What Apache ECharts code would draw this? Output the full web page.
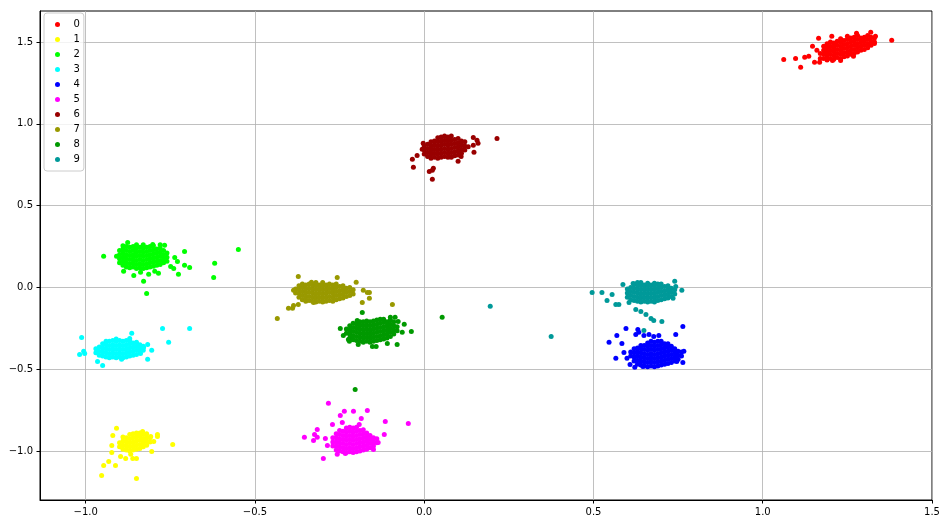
<!DOCTYPE html>
<html>
<head>
<meta charset="utf-8">
<script src="https://cdn.jsdelivr.net/npm/echarts@6/dist/echarts.min.js"></script>
<style>html,body{margin:0;padding:0;background:#fff}#chart{width:947px;height:524px}</style>
</head>
<body>
<div id="chart"></div>
<script>
// Tick labels
const xTicks = [-1.0, -0.5, 0.0, 0.5, 1.0, 1.5];
const yTicks = [-1.0, -0.5, 0.0, 0.5, 1.0, 1.5];
const names = ['0','1','2','3','4','5','6','7','8','9'];
const colors = ['#ff0000','#ffff00','#00ff00','#00ffff','#0000ff','#ff00ff','#990000','#999900','#009900','#009999'];

// cluster 0 (red)
const c0 = [
[1.18,1.40],[1.18,1.425],[1.18,1.45],[1.18,1.475],
[1.19,1.39],[1.19,1.415],[1.19,1.44],[1.19,1.465],[1.19,1.49],
[1.20,1.40],[1.20,1.425],[1.20,1.45],[1.20,1.475],[1.20,1.50],
[1.21,1.395],[1.21,1.42],[1.21,1.445],[1.21,1.47],[1.21,1.495],
[1.22,1.405],[1.22,1.43],[1.22,1.455],[1.22,1.48],[1.22,1.505],
[1.23,1.40],[1.23,1.425],[1.23,1.45],[1.23,1.475],[1.23,1.50],[1.23,1.52],
[1.24,1.41],[1.24,1.435],[1.24,1.46],[1.24,1.485],[1.24,1.51],
[1.25,1.415],[1.25,1.44],[1.25,1.465],[1.25,1.49],[1.25,1.515],[1.25,1.535],
[1.26,1.425],[1.26,1.45],[1.26,1.475],[1.26,1.50],[1.26,1.525],
[1.27,1.43],[1.27,1.455],[1.27,1.48],[1.27,1.505],[1.27,1.53],
[1.28,1.44],[1.28,1.465],[1.28,1.49],[1.28,1.515],[1.28,1.54],
[1.29,1.45],[1.29,1.475],[1.29,1.50],[1.29,1.525],
[1.30,1.455],[1.30,1.48],[1.30,1.505],[1.30,1.53],
[1.31,1.465],[1.31,1.49],[1.31,1.515],[1.31,1.54],
[1.32,1.48],[1.32,1.505],[1.32,1.53],
[1.33,1.50],[1.33,1.525],
[1.062,1.394],[1.097,1.40],[1.112,1.346],[1.381,1.511],[1.124,1.407],[1.136,1.413],
[1.147,1.474],[1.165,1.523],[1.204,1.535],[1.277,1.554],[1.319,1.56],[1.333,1.535],
[1.330,1.492],[1.268,1.413],[1.230,1.388],[1.206,1.388],[1.168,1.376],[1.153,1.376],
[1.17,1.43],[1.16,1.45],[1.17,1.40]
];
// cluster 1 (yellow)
const c1 = [
[-0.90,-0.975],[-0.90,-0.95],
[-0.89,-0.99],[-0.89,-0.965],[-0.89,-0.94],[-0.89,-0.915],
[-0.88,-0.995],[-0.88,-0.97],[-0.88,-0.945],[-0.88,-0.92],
[-0.87,-1.0],[-0.87,-0.975],[-0.87,-0.95],[-0.87,-0.925],[-0.87,-0.90],
[-0.86,-0.995],[-0.86,-0.97],[-0.86,-0.945],[-0.86,-0.92],[-0.86,-0.895],
[-0.85,-0.99],[-0.85,-0.965],[-0.85,-0.94],[-0.85,-0.915],[-0.85,-0.89],
[-0.84,-0.985],[-0.84,-0.96],[-0.84,-0.935],[-0.84,-0.91],[-0.84,-0.89],
[-0.83,-0.975],[-0.83,-0.95],[-0.83,-0.925],[-0.83,-0.90],
[-0.82,-0.965],[-0.82,-0.94],[-0.82,-0.915],[-0.82,-0.895],
[-0.81,-0.945],[-0.81,-0.92],
[-0.909,-0.862],[-0.920,-0.905],[-0.923,-0.966],[-0.832,-0.881],[-0.808,-0.911],
[-0.788,-0.899],[-0.788,-0.911],[-0.799,-0.942],[-0.743,-0.960],[-0.805,-1.003],
[-0.923,-1.009],[-0.932,-1.064],[-0.947,-1.089],[-0.953,-1.150],[-0.912,-1.089],
[-0.897,-1.034],[-0.882,-1.046],[-0.867,-1.021],[-0.861,-1.046],[-0.850,-1.046],
[-0.850,-1.168]
];
// cluster 2 (lime)
const c2 = [
[-0.90,0.15],[-0.90,0.175],[-0.90,0.20],[-0.90,0.225],
[-0.89,0.135],[-0.89,0.16],[-0.89,0.185],[-0.89,0.21],[-0.89,0.235],[-0.89,0.255],
[-0.88,0.125],[-0.88,0.15],[-0.88,0.175],[-0.88,0.20],[-0.88,0.225],[-0.88,0.25],
[-0.87,0.12],[-0.87,0.145],[-0.87,0.17],[-0.87,0.195],[-0.87,0.22],[-0.87,0.245],
[-0.86,0.125],[-0.86,0.15],[-0.86,0.175],[-0.86,0.20],[-0.86,0.225],[-0.86,0.25],
[-0.85,0.115],[-0.85,0.14],[-0.85,0.165],[-0.85,0.19],[-0.85,0.215],[-0.85,0.24],[-0.85,0.26],
[-0.84,0.12],[-0.84,0.145],[-0.84,0.17],[-0.84,0.195],[-0.84,0.22],[-0.84,0.245],
[-0.83,0.115],[-0.83,0.14],[-0.83,0.165],[-0.83,0.19],[-0.83,0.215],[-0.83,0.24],[-0.83,0.26],
[-0.82,0.12],[-0.82,0.145],[-0.82,0.17],[-0.82,0.195],[-0.82,0.22],[-0.82,0.245],
[-0.81,0.125],[-0.81,0.15],[-0.81,0.175],[-0.81,0.20],[-0.81,0.225],[-0.81,0.25],
[-0.80,0.13],[-0.80,0.155],[-0.80,0.18],[-0.80,0.205],[-0.80,0.23],[-0.80,0.255],
[-0.79,0.135],[-0.79,0.16],[-0.79,0.185],[-0.79,0.21],[-0.79,0.235],
[-0.78,0.14],[-0.78,0.165],[-0.78,0.19],[-0.78,0.215],[-0.78,0.24],[-0.78,0.26],
[-0.77,0.15],[-0.77,0.175],[-0.77,0.20],[-0.77,0.225],
[-0.76,0.16],[-0.76,0.185],[-0.76,0.21],
[-0.947,0.190],[-0.549,0.232],[-0.619,0.147],[-0.622,0.061],[-0.708,0.220],
[-0.693,0.122],[-0.708,0.135],[-0.726,0.080],[-0.740,0.116],[-0.729,0.159],
[-0.737,0.183],[-0.749,0.128],[-0.820,-0.037],[-0.829,0.037],[-0.888,0.098],
[-0.858,0.073],[-0.785,0.086],[-0.796,0.098],[-0.876,0.275],[-0.802,0.263],
[-0.767,0.257],[-0.909,0.190],[-0.838,0.092],[-0.814,0.080]
];
// cluster 3 (cyan)
const c3 = [
[-0.97,-0.40],[-0.97,-0.375],
[-0.96,-0.415],[-0.96,-0.39],[-0.96,-0.365],
[-0.95,-0.42],[-0.95,-0.395],[-0.95,-0.37],[-0.95,-0.345],
[-0.94,-0.425],[-0.94,-0.40],[-0.94,-0.375],[-0.94,-0.35],[-0.94,-0.33],
[-0.93,-0.43],[-0.93,-0.405],[-0.93,-0.38],[-0.93,-0.355],[-0.93,-0.33],
[-0.92,-0.425],[-0.92,-0.40],[-0.92,-0.375],[-0.92,-0.35],[-0.92,-0.325],
[-0.91,-0.43],[-0.91,-0.405],[-0.91,-0.38],[-0.91,-0.355],[-0.91,-0.33],[-0.91,-0.315],
[-0.90,-0.425],[-0.90,-0.40],[-0.90,-0.375],[-0.90,-0.35],[-0.90,-0.325],
[-0.89,-0.43],[-0.89,-0.405],[-0.89,-0.38],[-0.89,-0.355],[-0.89,-0.33],
[-0.88,-0.425],[-0.88,-0.40],[-0.88,-0.375],[-0.88,-0.35],[-0.88,-0.325],
[-0.87,-0.42],[-0.87,-0.395],[-0.87,-0.37],[-0.87,-0.345],[-0.87,-0.325],
[-0.86,-0.415],[-0.86,-0.39],[-0.86,-0.365],[-0.86,-0.34],
[-0.85,-0.41],[-0.85,-0.385],[-0.85,-0.36],[-0.85,-0.335],
[-0.84,-0.40],[-0.84,-0.375],[-0.84,-0.35],
[-0.83,-0.385],[-0.83,-0.36],
[-0.773,-0.251],[-0.693,-0.251],[-0.755,-0.336],[-1.012,-0.306],[-1.018,-0.410],
[-1.006,-0.391],[-1.003,-0.404],[-0.864,-0.281],[-0.870,-0.312],[-0.817,-0.349],
[-0.805,-0.385],[-0.838,-0.404],[-0.817,-0.440],[-0.950,-0.477],[-0.965,-0.453],
[-0.894,-0.440],[-0.829,-0.367]
];
// cluster 4 (blue)
const c4 = [
[0.61,-0.42],[0.61,-0.395],
[0.62,-0.45],[0.62,-0.425],[0.62,-0.40],[0.62,-0.375],
[0.63,-0.47],[0.63,-0.445],[0.63,-0.42],[0.63,-0.395],[0.63,-0.37],
[0.64,-0.475],[0.64,-0.45],[0.64,-0.425],[0.64,-0.40],[0.64,-0.375],[0.64,-0.355],
[0.65,-0.48],[0.65,-0.455],[0.65,-0.43],[0.65,-0.405],[0.65,-0.38],[0.65,-0.355],
[0.66,-0.485],[0.66,-0.46],[0.66,-0.435],[0.66,-0.41],[0.66,-0.385],[0.66,-0.36],[0.66,-0.34],
[0.67,-0.48],[0.67,-0.455],[0.67,-0.43],[0.67,-0.405],[0.67,-0.38],[0.67,-0.355],[0.67,-0.33],
[0.68,-0.485],[0.68,-0.46],[0.68,-0.435],[0.68,-0.41],[0.68,-0.385],[0.68,-0.36],[0.68,-0.335],
[0.69,-0.48],[0.69,-0.455],[0.69,-0.43],[0.69,-0.405],[0.69,-0.38],[0.69,-0.355],[0.69,-0.33],
[0.70,-0.475],[0.70,-0.45],[0.70,-0.425],[0.70,-0.40],[0.70,-0.375],[0.70,-0.35],[0.70,-0.33],
[0.71,-0.47],[0.71,-0.445],[0.71,-0.42],[0.71,-0.395],[0.71,-0.37],[0.71,-0.345],
[0.72,-0.465],[0.72,-0.44],[0.72,-0.415],[0.72,-0.39],[0.72,-0.365],[0.72,-0.345],
[0.73,-0.46],[0.73,-0.435],[0.73,-0.41],[0.73,-0.385],[0.73,-0.36],
[0.74,-0.45],[0.74,-0.425],[0.74,-0.40],[0.74,-0.375],
[0.75,-0.44],[0.75,-0.415],[0.75,-0.39],
[0.76,-0.42],[0.76,-0.395],
[0.546,-0.336],[0.569,-0.294],[0.584,-0.343],[0.596,-0.251],[0.625,-0.288],
[0.631,-0.257],[0.634,-0.275],[0.649,-0.294],[0.664,-0.288],[0.678,-0.300],
[0.693,-0.294],[0.743,-0.288],[0.764,-0.239],[0.566,-0.434],[0.590,-0.398],
[0.599,-0.434],[0.608,-0.471],[0.622,-0.489],[0.646,-0.483],[0.746,-0.453],
[0.764,-0.459],[0.767,-0.391]
];
// cluster 5 (magenta)
const c5 = [
[-0.27,-0.97],[-0.27,-0.945],[-0.27,-0.92],
[-0.26,-0.995],[-0.26,-0.97],[-0.26,-0.945],[-0.26,-0.92],[-0.26,-0.895],
[-0.25,-1.0],[-0.25,-0.975],[-0.25,-0.95],[-0.25,-0.925],[-0.25,-0.90],[-0.25,-0.875],
[-0.24,-1.005],[-0.24,-0.98],[-0.24,-0.955],[-0.24,-0.93],[-0.24,-0.905],[-0.24,-0.88],
[-0.23,-1.01],[-0.23,-0.985],[-0.23,-0.96],[-0.23,-0.935],[-0.23,-0.91],[-0.23,-0.885],[-0.23,-0.86],
[-0.22,-1.005],[-0.22,-0.98],[-0.22,-0.955],[-0.22,-0.93],[-0.22,-0.905],[-0.22,-0.88],[-0.22,-0.855],
[-0.21,-1.01],[-0.21,-0.985],[-0.21,-0.96],[-0.21,-0.935],[-0.21,-0.91],[-0.21,-0.885],[-0.21,-0.86],
[-0.20,-1.005],[-0.20,-0.98],[-0.20,-0.955],[-0.20,-0.93],[-0.20,-0.905],[-0.20,-0.88],[-0.20,-0.855],
[-0.19,-1.0],[-0.19,-0.975],[-0.19,-0.95],[-0.19,-0.925],[-0.19,-0.90],[-0.19,-0.875],
[-0.18,-0.995],[-0.18,-0.97],[-0.18,-0.945],[-0.18,-0.92],[-0.18,-0.895],[-0.18,-0.87],
[-0.17,-0.99],[-0.17,-0.965],[-0.17,-0.94],[-0.17,-0.915],[-0.17,-0.89],
[-0.16,-0.98],[-0.16,-0.955],[-0.16,-0.93],[-0.16,-0.905],
[-0.15,-0.97],[-0.15,-0.945],[-0.15,-0.92],
[-0.14,-0.95],[-0.14,-0.925],
[-0.283,-0.709],[-0.248,-0.783],[-0.236,-0.758],[-0.209,-0.758],[-0.168,-0.752],
[-0.186,-0.801],[-0.115,-0.820],[-0.047,-0.832],[-0.118,-0.899],[-0.354,-0.917],
[-0.327,-0.936],[-0.324,-0.899],[-0.316,-0.869],[-0.316,-0.917],[-0.292,-0.924],
[-0.286,-0.966],[-0.298,-1.046],[-0.271,-0.838],[-0.242,-0.826],[-0.192,-0.838],
[-0.136,-0.948],[-0.150,-0.991],[-0.257,-1.021],[-0.233,-1.015]
];
// cluster 6 (dark red)
const c6 = [
[0.00,0.815],[0.00,0.84],[0.00,0.865],
[0.01,0.80],[0.01,0.825],[0.01,0.85],[0.01,0.875],
[0.02,0.79],[0.02,0.815],[0.02,0.84],[0.02,0.865],[0.02,0.89],
[0.03,0.795],[0.03,0.82],[0.03,0.845],[0.03,0.87],[0.03,0.895],
[0.04,0.79],[0.04,0.815],[0.04,0.84],[0.04,0.865],[0.04,0.89],[0.04,0.915],
[0.05,0.795],[0.05,0.82],[0.05,0.845],[0.05,0.87],[0.05,0.895],[0.05,0.92],
[0.06,0.80],[0.06,0.825],[0.06,0.85],[0.06,0.875],[0.06,0.90],[0.06,0.925],
[0.07,0.795],[0.07,0.82],[0.07,0.845],[0.07,0.87],[0.07,0.895],[0.07,0.92],
[0.08,0.80],[0.08,0.825],[0.08,0.85],[0.08,0.875],[0.08,0.90],[0.08,0.925],
[0.09,0.805],[0.09,0.83],[0.09,0.855],[0.09,0.88],[0.09,0.905],
[0.10,0.81],[0.10,0.835],[0.10,0.86],[0.10,0.885],[0.10,0.91],
[0.11,0.82],[0.11,0.845],[0.11,0.87],[0.11,0.895],
[0.12,0.84],[0.12,0.865],[0.12,0.89],
[0.13,0.86],
[0.215,0.911],[-0.035,0.783],[-0.032,0.734],[-0.021,0.807],[0.015,0.709],
[0.024,0.716],[0.027,0.728],[0.024,0.661],[0.100,0.771],[0.145,0.917],
[0.156,0.899],[0.159,0.881],[0.145,0.869],[0.147,0.826],[0.109,0.801],
[-0.003,0.881],[-0.006,0.844],[0.080,0.795]
];
// cluster 7 (olive)
const c7 = [
[-0.38,-0.035],[-0.38,-0.01],
[-0.37,-0.06],[-0.37,-0.035],[-0.37,-0.01],[-0.37,0.01],
[-0.36,-0.075],[-0.36,-0.05],[-0.36,-0.025],[-0.36,0.00],[-0.36,0.02],
[-0.35,-0.085],[-0.35,-0.06],[-0.35,-0.035],[-0.35,-0.01],[-0.35,0.015],
[-0.34,-0.08],[-0.34,-0.055],[-0.34,-0.03],[-0.34,-0.005],[-0.34,0.02],
[-0.33,-0.085],[-0.33,-0.06],[-0.33,-0.035],[-0.33,-0.01],[-0.33,0.015],
[-0.32,-0.09],[-0.32,-0.065],[-0.32,-0.04],[-0.32,-0.015],[-0.32,0.01],[-0.32,0.03],
[-0.31,-0.085],[-0.31,-0.06],[-0.31,-0.035],[-0.31,-0.01],[-0.31,0.015],
[-0.30,-0.09],[-0.30,-0.065],[-0.30,-0.04],[-0.30,-0.015],[-0.30,0.01],[-0.30,0.03],
[-0.29,-0.085],[-0.29,-0.06],[-0.29,-0.035],[-0.29,-0.01],[-0.29,0.015],
[-0.28,-0.08],[-0.28,-0.055],[-0.28,-0.03],[-0.28,-0.005],[-0.28,0.02],
[-0.27,-0.085],[-0.27,-0.06],[-0.27,-0.035],[-0.27,-0.01],[-0.27,0.015],
[-0.26,-0.075],[-0.26,-0.05],[-0.26,-0.025],[-0.26,0.00],[-0.26,0.02],
[-0.25,-0.07],[-0.25,-0.045],[-0.25,-0.02],[-0.25,0.005],
[-0.24,-0.065],[-0.24,-0.04],[-0.24,-0.015],[-0.24,0.01],
[-0.23,-0.055],[-0.23,-0.03],[-0.23,-0.005],
[-0.22,-0.05],[-0.22,-0.025],[-0.22,0.00],
[-0.21,-0.04],[-0.21,-0.015],
[-0.372,0.067],[-0.434,-0.190],[-0.401,-0.128],[-0.389,-0.128],[-0.386,-0.110],
[-0.372,-0.104],[-0.257,0.061],[-0.201,0.031],[-0.180,-0.018],[-0.162,-0.031],
[-0.168,-0.031],[-0.162,-0.067],[-0.183,-0.092],[-0.094,-0.104],[-0.333,0.031],
[-0.386,-0.018],[-0.327,-0.092]
];
// cluster 8 (green)
const c8 = [
[-0.23,-0.28],[-0.23,-0.255],
[-0.22,-0.31],[-0.22,-0.285],[-0.22,-0.26],[-0.22,-0.235],
[-0.21,-0.32],[-0.21,-0.295],[-0.21,-0.27],[-0.21,-0.245],[-0.21,-0.22],
[-0.20,-0.325],[-0.20,-0.30],[-0.20,-0.275],[-0.20,-0.25],[-0.20,-0.225],
[-0.19,-0.33],[-0.19,-0.305],[-0.19,-0.28],[-0.19,-0.255],[-0.19,-0.23],[-0.19,-0.21],
[-0.18,-0.335],[-0.18,-0.31],[-0.18,-0.285],[-0.18,-0.26],[-0.18,-0.235],[-0.18,-0.21],
[-0.17,-0.33],[-0.17,-0.305],[-0.17,-0.28],[-0.17,-0.255],[-0.17,-0.23],[-0.17,-0.205],
[-0.16,-0.335],[-0.16,-0.31],[-0.16,-0.285],[-0.16,-0.26],[-0.16,-0.235],[-0.16,-0.21],
[-0.15,-0.33],[-0.15,-0.305],[-0.15,-0.28],[-0.15,-0.255],[-0.15,-0.23],[-0.15,-0.205],
[-0.14,-0.325],[-0.14,-0.30],[-0.14,-0.275],[-0.14,-0.25],[-0.14,-0.225],[-0.14,-0.20],
[-0.13,-0.32],[-0.13,-0.295],[-0.13,-0.27],[-0.13,-0.245],[-0.13,-0.22],[-0.13,-0.195],
[-0.12,-0.315],[-0.12,-0.29],[-0.12,-0.265],[-0.12,-0.24],[-0.12,-0.215],[-0.12,-0.195],
[-0.11,-0.31],[-0.11,-0.285],[-0.11,-0.26],[-0.11,-0.235],[-0.11,-0.21],
[-0.10,-0.30],[-0.10,-0.275],[-0.10,-0.25],[-0.10,-0.225],[-0.10,-0.20],
[-0.09,-0.285],[-0.09,-0.26],[-0.09,-0.235],[-0.09,-0.21],
[-0.08,-0.265],[-0.08,-0.24],
[-0.183,-0.153],[-0.198,-0.202],[-0.248,-0.251],[-0.239,-0.294],[-0.224,-0.318],
[-0.221,-0.330],[-0.195,-0.349],[-0.153,-0.361],[-0.142,-0.361],[-0.109,-0.343],
[-0.080,-0.349],[-0.065,-0.275],[-0.038,-0.269],[-0.059,-0.226],[-0.077,-0.208],
[-0.086,-0.183],[-0.100,-0.183],[0.053,-0.183],[-0.204,-0.624]
];
// cluster 9 (teal)
const c9 = [
[0.60,-0.06],[0.60,-0.035],[0.60,-0.01],
[0.61,-0.075],[0.61,-0.05],[0.61,-0.025],[0.61,0.00],
[0.62,-0.08],[0.62,-0.055],[0.62,-0.03],[0.62,-0.005],[0.62,0.02],
[0.63,-0.085],[0.63,-0.06],[0.63,-0.035],[0.63,-0.01],[0.63,0.015],[0.63,0.03],
[0.64,-0.09],[0.64,-0.065],[0.64,-0.04],[0.64,-0.015],[0.64,0.01],[0.64,0.03],
[0.65,-0.085],[0.65,-0.06],[0.65,-0.035],[0.65,-0.01],[0.65,0.015],
[0.66,-0.09],[0.66,-0.065],[0.66,-0.04],[0.66,-0.015],[0.66,0.01],[0.66,0.025],
[0.67,-0.085],[0.67,-0.06],[0.67,-0.035],[0.67,-0.01],[0.67,0.015],
[0.68,-0.09],[0.68,-0.065],[0.68,-0.04],[0.68,-0.015],[0.68,0.01],[0.68,0.025],
[0.69,-0.08],[0.69,-0.055],[0.69,-0.03],[0.69,-0.005],[0.69,0.02],
[0.70,-0.075],[0.70,-0.05],[0.70,-0.025],[0.70,0.00],[0.70,0.02],
[0.71,-0.07],[0.71,-0.045],[0.71,-0.02],[0.71,0.005],
[0.72,-0.065],[0.72,-0.04],[0.72,-0.015],[0.72,0.01],
[0.73,-0.055],[0.73,-0.03],[0.73,-0.005],
[0.74,-0.04],[0.74,-0.015],
[0.496,-0.031],[0.525,-0.031],[0.540,-0.080],[0.555,-0.043],[0.566,-0.104],
[0.575,-0.104],[0.587,0.018],[0.617,0.024],[0.605,-0.092],[0.625,-0.135],
[0.640,-0.147],[0.655,-0.165],[0.670,-0.190],[0.678,-0.202],[0.702,-0.208],
[0.649,-0.263],[0.740,0.037],[0.743,0.006],[0.761,-0.018],[0.735,-0.067],
[0.696,0.018],[0.195,-0.116],[0.375,-0.300]
];

const clusters = [c0,c1,c2,c3,c4,c5,c6,c7,c8,c9];

const fmt = v => {
  const s = Number(v).toFixed(1);
  return s.replace('-', '\u2212');
};
const fontFamily = 'DejaVu Sans';

const chart = echarts.init(document.getElementById('chart'), null, {renderer: 'canvas'});
chart.setOption({
  animation: false,
  backgroundColor: '#ffffff',
  grid: {left: 40, right: 15, top: 11, bottom: 24, show: true, borderColor: '#000', borderWidth: 1, backgroundColor: 'transparent'},
  legend: {
    show: true,
    data: names,
    orient: 'vertical',
    left: 44, top: 13,
    padding: [4, 4, 4, 11],
    itemGap: 0,
    itemWidth: 22, itemHeight: 5,
    icon: 'circle',
    backgroundColor: 'rgba(255,255,255,0.8)',
    borderColor: '#cccccc', borderWidth: 1, borderRadius: 3,
    textStyle: {fontFamily: fontFamily, fontSize: 10, color: '#000', lineHeight: 15}
  },
  xAxis: {
    type: 'value', min: -1.135, max: 1.5,
    axisLine: {show: true, onZero: false, lineStyle: {color: '#000', width: 1}},
    axisTick: {show: true, inside: false, length: 3.5, lineStyle: {color: '#000'}, customValues: xTicks},
    axisLabel: {show: true, margin: 7, color: '#000', fontFamily: fontFamily, fontSize: 10, customValues: xTicks, formatter: fmt},
    splitLine: {show: true, lineStyle: {color: '#b0b0b0', width: 0.8}}
  },
  yAxis: {
    type: 'value', min: -1.30, max: 1.69,
    axisLine: {show: true, onZero: false, lineStyle: {color: '#000', width: 1}},
    axisTick: {show: true, inside: false, length: 3.5, lineStyle: {color: '#000'}, customValues: yTicks},
    axisLabel: {show: true, margin: 7, color: '#000', fontFamily: fontFamily, fontSize: 10, customValues: yTicks, formatter: fmt},
    splitLine: {show: true, lineStyle: {color: '#b0b0b0', width: 0.8}}
  },
  series: clusters.map((d, i) => ({
    name: names[i],
    type: 'scatter',
    data: d,
    symbol: 'circle',
    symbolSize: 5,
    itemStyle: {color: colors[i], opacity: 1},
    emphasis: {disabled: true}
  }))
});
</script>
</body>
</html>
